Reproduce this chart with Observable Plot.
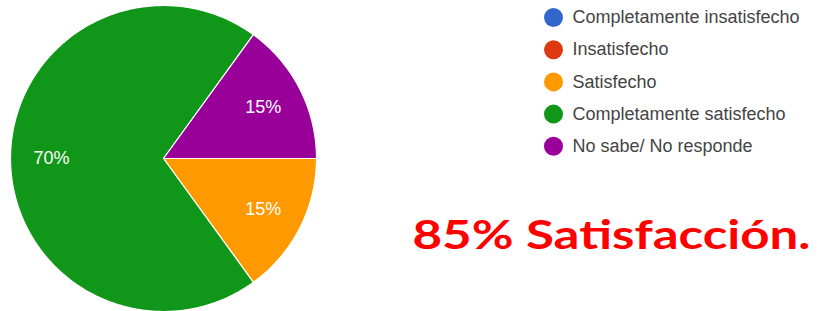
<!DOCTYPE html>
<html><head><meta charset="utf-8">
<script src="https://cdn.jsdelivr.net/npm/d3@7"></script>
<script src="https://cdn.jsdelivr.net/npm/@observablehq/plot@0.6"></script>
<style>html,body{margin:0;padding:0;background:#fff;overflow:hidden}</style>
</head><body><div id="chart"></div>
<script>
const categories = ["Completamente insatisfecho", "Insatisfecho", "Satisfecho", "Completamente satisfecho", "No sabe/ No responde"];
const values = [0, 0, 15, 70, 15];
const colors = ["#3366cc", "#dc3912", "#ff9900", "#109618", "#990099"];
const labels = ["0%", "0%", "15%", "70%", "15%"];
const headline = "85% Satisfacción.";

const W = 834, H = 311;
const cx = 163, cy = 158, R = 153, labelR = 112;
const data = categories.map((c, i) => ({name: c, value: values[i], color: colors[i], label: labels[i], idx: i}));
const arcs = d3.pie().sort(null).value(d => d.value).startAngle(Math.PI / 2).endAngle(Math.PI / 2 + 2 * Math.PI)(data);

const pt = (a, r) => [cx + r * Math.sin(a), cy - r * Math.cos(a)];
const slicePts = [];
arcs.filter(a => a.data.value > 0).forEach(a => {
  slicePts.push({name: a.data.name, p: [cx, cy]});
  const n = Math.max(2, Math.ceil((a.endAngle - a.startAngle) * 60));
  for (let k = 0; k <= n; k++) {
    const ang = a.startAngle + (a.endAngle - a.startAngle) * k / n;
    slicePts.push({name: a.data.name, p: pt(ang, R)});
  }
});
const labelPts = arcs.filter(a => a.data.value > 0).map(a => {
  const p = pt((a.startAngle + a.endAngle) / 2, labelR);
  return {label: a.data.label, x: p[0], y: p[1]};
});

const legendX = 553, legendY0 = 17, legendStep = 32.2;
const legend = data.map((d, i) => ({name: d.name, x: legendX, y: legendY0 + i * legendStep}));

const plot = Plot.plot({
  width: W, height: H,
  margin: 0,
  x: {domain: [0, W], range: [0, W], axis: null},
  y: {domain: [0, H], range: [0, H], axis: null},
  color: {domain: categories, range: colors},
  marks: [
    Plot.line(slicePts, {x: d => d.p[0], y: d => d.p[1], z: "name", fill: "name", stroke: "white", strokeWidth: 1.2, curve: "linear-closed"}),
    Plot.text(labelPts, {x: "x", y: "y", text: "label", fill: "white", fontSize: 18, fontFamily: "Liberation Sans, Arial, sans-serif"}),
    Plot.dot(legend, {x: "x", y: "y", r: 9.5, fill: "name", stroke: null}),
    Plot.text(legend, {x: d => d.x + 19, y: "y", text: "name", textAnchor: "start", fill: "#444", fontSize: 18, fontFamily: "Liberation Sans, Arial, sans-serif"}),
    Plot.text([headline], {x: 412, y: 236, text: d => d, textAnchor: "start", fill: "#ff0000", fontSize: 40, fontWeight: "bold", fontFamily: "Lato, DejaVu Sans, sans-serif", className: "headline"})
  ]
});
document.getElementById("chart").appendChild(plot);
d3.select(plot).selectAll(".headline text").attr("textLength", 398).attr("lengthAdjust", "spacingAndGlyphs");
</script>
</body></html>
